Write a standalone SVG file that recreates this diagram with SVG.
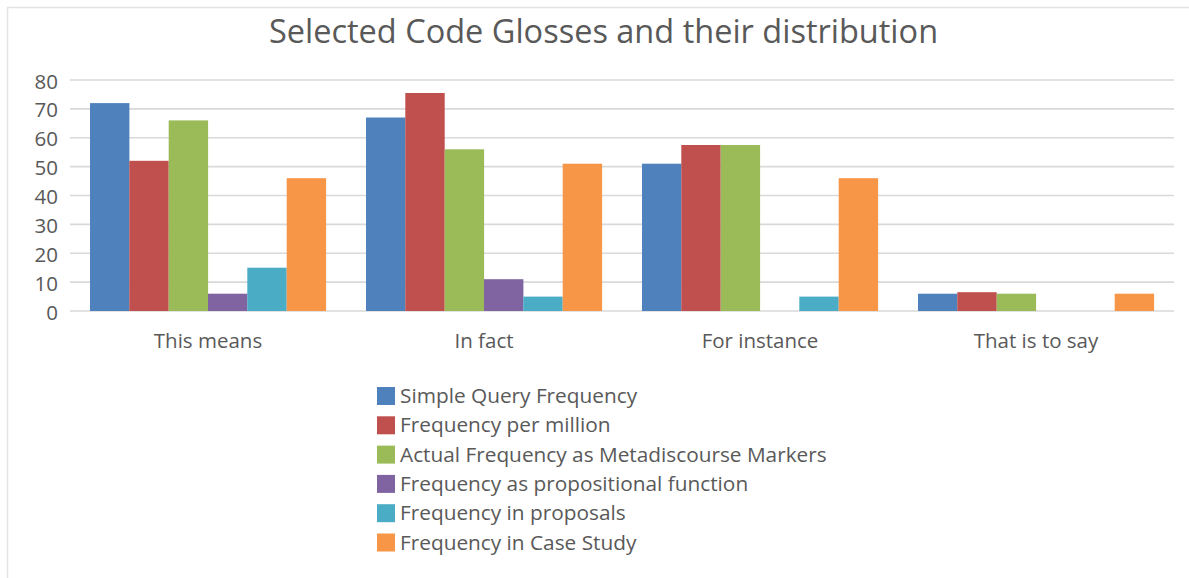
<svg xmlns="http://www.w3.org/2000/svg" width="1189" height="578" viewBox="0 0 1189 578">
<style>
text{font-family:"Open Sans","Noto Sans","Liberation Sans",sans-serif;fill:#595959}
.grid{stroke:#D9D9D9;stroke-width:1.6}
.ylab{font-size:20.5px;text-anchor:end}
.xlab{font-size:20.5px;text-anchor:middle}
.leg{font-size:20.8px}
.s1{fill:#4F81BD}.s2{fill:#C0504D}.s3{fill:#9BBB59}.s4{fill:#8064A2}.s5{fill:#4BACC6}.s6{fill:#F79646}
</style>
<rect x="0" y="0" width="1189" height="578" fill="#FFFFFF"/>
<path d="M7.5 578 V7.5 H1189" fill="none" stroke="#E3E3E3" stroke-width="1.5"/>
<text x="603.5" y="43" font-size="32.5" text-anchor="middle" id="title">Selected Code Glosses and their distribution</text>
<g id="gridlines">
<line class="grid" x1="70" y1="80" x2="1174" y2="80"/>
<line class="grid" x1="70" y1="108.9" x2="1174" y2="108.9"/>
<line class="grid" x1="70" y1="137.8" x2="1174" y2="137.8"/>
<line class="grid" x1="70" y1="166.6" x2="1174" y2="166.6"/>
<line class="grid" x1="70" y1="195.5" x2="1174" y2="195.5"/>
<line class="grid" x1="70" y1="224.4" x2="1174" y2="224.4"/>
<line class="grid" x1="70" y1="253.3" x2="1174" y2="253.3"/>
<line class="grid" x1="70" y1="282.1" x2="1174" y2="282.1"/>
<line class="grid" x1="70" y1="311" x2="1174" y2="311"/>
</g>
<g id="y-axis">
<text class="ylab" x="58" y="88.5">80</text>
<text class="ylab" x="58" y="117.4">70</text>
<text class="ylab" x="58" y="146.3">60</text>
<text class="ylab" x="58" y="175.1">50</text>
<text class="ylab" x="58" y="204">40</text>
<text class="ylab" x="58" y="232.9">30</text>
<text class="ylab" x="58" y="261.8">20</text>
<text class="ylab" x="58" y="290.6">10</text>
<text class="ylab" x="58" y="319.5">0</text>
</g>
<g id="bars-this-means">
<rect class="s1" x="90" y="103.1" width="39.4" height="207.9"/>
<rect class="s2" x="129.3" y="160.8" width="39.4" height="150.2"/>
<rect class="s3" x="168.7" y="120.4" width="39.4" height="190.6"/>
<rect class="s4" x="208" y="293.7" width="39.4" height="17.3"/>
<rect class="s5" x="247.3" y="267.7" width="39.4" height="43.3"/>
<rect class="s6" x="286.7" y="178.2" width="39.4" height="132.8"/>
</g>
<g id="bars-in-fact">
<rect class="s1" x="366" y="117.5" width="39.4" height="193.5"/>
<rect class="s2" x="405.3" y="93" width="39.4" height="218"/>
<rect class="s3" x="444.7" y="149.3" width="39.4" height="161.7"/>
<rect class="s4" x="484" y="279.2" width="39.4" height="31.8"/>
<rect class="s5" x="523.3" y="296.6" width="39.4" height="14.4"/>
<rect class="s6" x="562.7" y="163.7" width="39.4" height="147.3"/>
</g>
<g id="bars-for-instance">
<rect class="s1" x="642" y="163.7" width="39.4" height="147.3"/>
<rect class="s2" x="681.3" y="145" width="39.4" height="166"/>
<rect class="s3" x="720.7" y="145" width="39.4" height="166"/>
<rect class="s5" x="799.3" y="296.6" width="39.4" height="14.4"/>
<rect class="s6" x="838.7" y="178.2" width="39.4" height="132.8"/>
</g>
<g id="bars-that-is-to-say">
<rect class="s1" x="918" y="293.7" width="39.4" height="17.3"/>
<rect class="s2" x="957.3" y="292.2" width="39.4" height="18.8"/>
<rect class="s3" x="996.7" y="293.7" width="39.4" height="17.3"/>
<rect class="s6" x="1114.7" y="293.7" width="39.4" height="17.3"/>
</g>
<g id="x-axis">
<text class="xlab" x="208" y="347.5">This means</text>
<text class="xlab" x="484" y="347.5">In fact</text>
<text class="xlab" x="760" y="347.5">For instance</text>
<text class="xlab" x="1036" y="347.5">That is to say</text>
</g>
<g id="legend">
<rect class="s1" x="377" y="387" width="18" height="18"/>
<text class="leg" x="400" y="403">Simple Query Frequency</text>
<rect class="s2" x="377" y="416.3" width="18" height="18"/>
<text class="leg" x="400" y="432.3">Frequency per million</text>
<rect class="s3" x="377" y="445.6" width="18" height="18"/>
<text class="leg" x="400" y="461.6">Actual Frequency as Metadiscourse Markers</text>
<rect class="s4" x="377" y="474.9" width="18" height="18"/>
<text class="leg" x="400" y="490.9">Frequency as propositional function</text>
<rect class="s5" x="377" y="504.2" width="18" height="18"/>
<text class="leg" x="400" y="520.2">Frequency in proposals</text>
<rect class="s6" x="377" y="533.5" width="18" height="18"/>
<text class="leg" x="400" y="549.5">Frequency in Case Study</text>
</g>
</svg>
